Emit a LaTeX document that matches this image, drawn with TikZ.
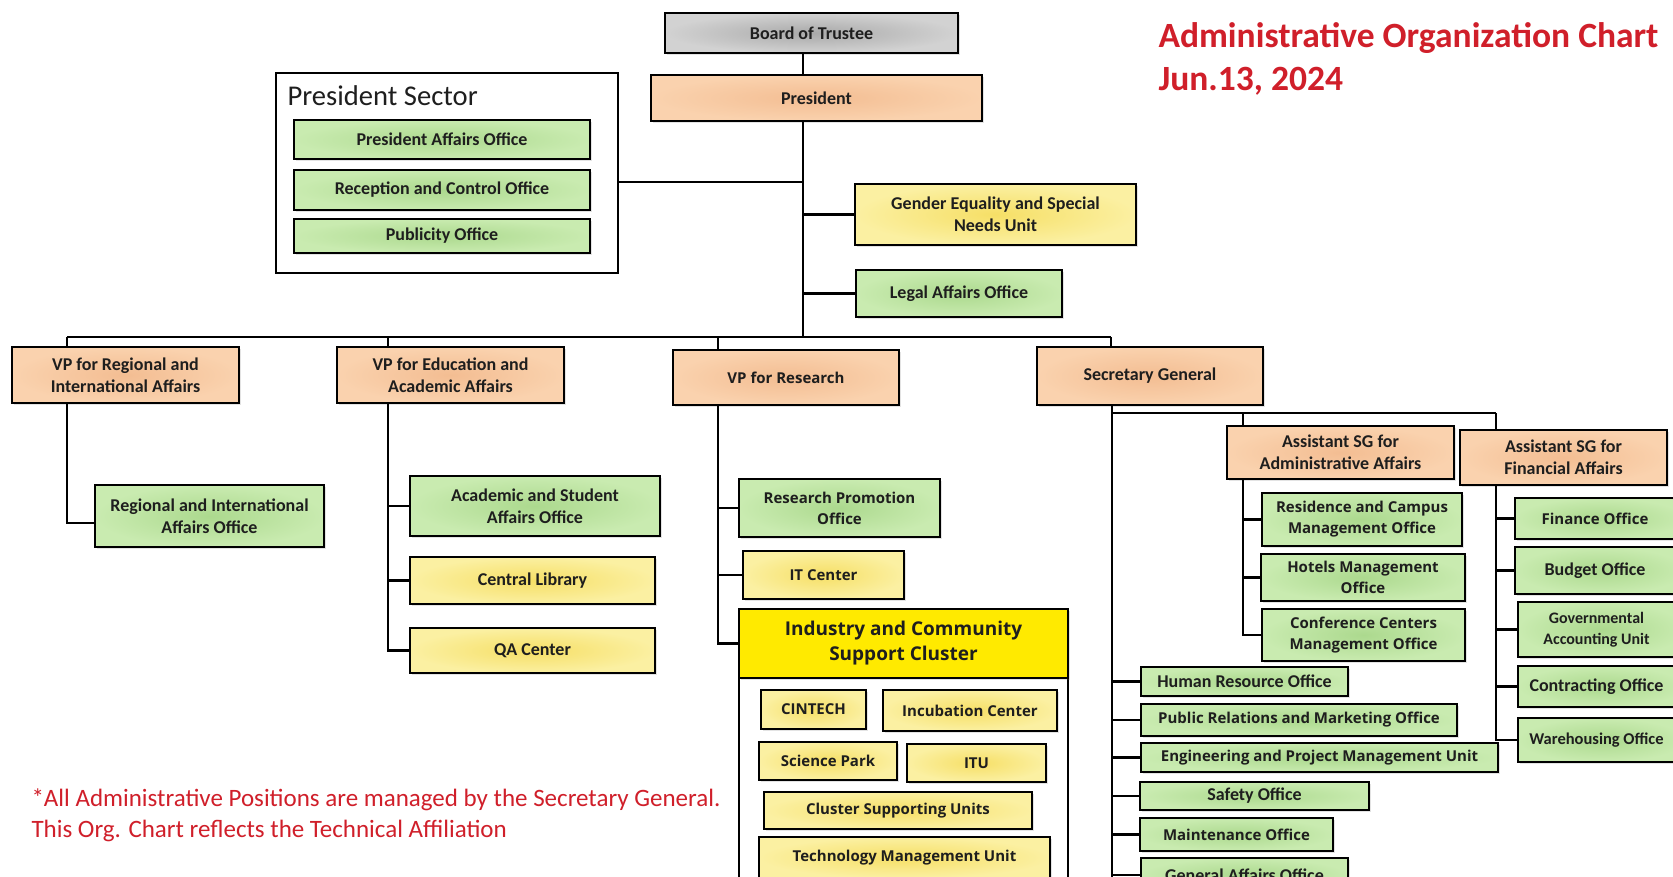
\documentclass[tikz,border=0pt]{standalone}
\usepackage{fontspec}
\setmainfont{Carlito}
\newfontfamily\tahfont{Open Sans}
\usetikzlibrary{shadows}
\definecolor{gout}{HTML}{C9EBB0}
\definecolor{gin}{HTML}{ACD98E}
\definecolor{pout}{HTML}{FAD2AE}
\definecolor{pin}{HTML}{F3BD92}
\definecolor{yout}{HTML}{FBF0A2}
\definecolor{yin}{HTML}{F6DF66}
\definecolor{grout}{HTML}{D2D2D2}
\definecolor{grin}{HTML}{A9A9A9}
\definecolor{clfill}{HTML}{FFEA00}
\definecolor{redt}{HTML}{D01F2A}
\definecolor{txt}{HTML}{1E1E1E}
\newcommand{\bxn}[6]{\node[#1, minimum width={(#4-#2)*1pt}, minimum height={(#5-#3)*1pt}] (#6) at ({(#2+#4)/2},{(#3+#5)/2})}
\tikzset{
  bx/.style={draw=black, line width=2.5pt, align=center, inner sep=1pt, text=txt,
    font=\bfseries\fontsize{18}{22}\selectfont,
    drop shadow={opacity=0.22, shadow xshift=2pt, shadow yshift=-2pt}},
  gbox/.style={bx, inner color=gin, outer color=gout},
  pbox/.style={bx, inner color=pin, outer color=pout},
  ybox/.style={bx, inner color=yin, outer color=yout},
  grbox/.style={bx, inner color=grin, outer color=grout},
  clbox/.style={bx, fill=clfill, font=\tahfont\bfseries\fontsize{19}{25}\selectfont},
  tah/.style={font=\tahfont\bfseries\fontsize{15}{21}\selectfont},
  contbox/.style={draw=black, line width=2.4pt, fill=white},
  lnk/.style={draw=black, line width=2.9pt},
  redtitle/.style={anchor=west, text=redt, font=\bfseries\fontsize{35.5}{42}\selectfont},
  rednote/.style={anchor=west, text=redt, font=\fontsize{25}{30}\selectfont},
}
\begin{document}
\begin{tikzpicture}[x=1pt, y=-1pt]
\useasboundingbox (0,0) rectangle (1673,876);
\clip (0,0) rectangle (1673,876);
\fill[white] (0,0) rectangle (1673,876);

% titles
\node[redtitle] (ttl) at (1155,38) {Administrative Organization Chart};
\node[redtitle] (dte) at (1155,81) {Jun.13, 2024};
\node[rednote] (fn1) at (28,800) {*All Administrative Positions are managed by the Secretary General.};
\node[rednote] (fn2) at (28,831) {This Org. Chart reflects the Technical Affiliation};

% junction coordinates
\coordinate (tP) at (803,337);
\coordinate (jPS) at (803,182);
\coordinate (bL) at (67,337);
\coordinate (bR) at (1111,337);
\coordinate (xE) at (388,337);
\coordinate (xS) at (718,337);
\coordinate (cR) at (67,523);
\coordinate (gEnd) at (1112,890);
\coordinate (brA) at (1243,413);
\coordinate (brF) at (1496,413);

% top
\bxn{grbox}{665}{13}{958}{53}{board} {Board of Trustee};
\bxn{pbox}{651}{75}{982}{121}{pres} {President};
\bxn{contbox}{276}{73}{618}{273}{psec} {};
\node[anchor=west, text=txt, font=\fontsize{28.6}{32}\selectfont] (pst) at (284,96) {President Sector};
\bxn{gbox}{294}{120}{590}{159}{paff} {President Affairs Office};
\bxn{gbox}{294}{170}{590}{210}{rco} {Reception and Control Office};
\bxn{gbox}{294}{219}{590}{253}{pub} {Publicity Office};
\bxn{ybox}{855}{184}{1136}{245}{gender} {Gender Equality and Special\\Needs Unit};
\bxn{gbox}{856}{270}{1062}{317}{legal} {Legal Affairs Office};

\draw[lnk] (board.south -| tP) -- (pres.north -| tP);
\draw[lnk] (pres.south -| tP) -- (tP);
\draw[lnk] (psec.east |- jPS) -- (jPS);
\draw[lnk] (gender.west -| tP) -- (gender.west);
\draw[lnk] (legal.west -| tP) -- (legal.west);
\draw[lnk] (bL) -- (bR);

% VPs
\bxn{pbox}{12}{347}{239}{403}{vpr} {VP for Regional and\\International Affairs};
\bxn{pbox}{337}{347}{564}{403}{vpe} {VP for Education and\\Academic Affairs};
\bxn{pbox, tah}{673}{350}{899}{405}{vps} {VP for Research};
\bxn{pbox}{1037}{347}{1263}{405}{sg} {Secretary General};
\draw[lnk] (bL) -- (vpr.north -| bL);
\draw[lnk] (xE) -- (vpe.north -| xE);
\draw[lnk] (xS) -- (vps.north -| xS);
\draw[lnk] (bR) -- (sg.north -| bR);

% VP regional
\bxn{gbox}{95}{485}{324}{547}{riao} {Regional and International\\Affairs Office};
\draw[lnk] (vpr.south -| cR) -- (cR) -- (riao.west |- cR);

% VP education
\bxn{gbox}{410}{476}{660}{536}{asao} {Academic and Student\\Affairs Office};
\bxn{ybox}{410}{557}{655}{604}{clib} {Central Library};
\bxn{ybox}{410}{628}{655}{673}{qa} {QA Center};
\draw[lnk] (vpe.south -| xE) -- (qa.west -| xE) -- (qa.west);
\draw[lnk] (asao.west -| xE) -- (asao.west);
\draw[lnk] (clib.west -| xE) -- (clib.west);

% VP research
\bxn{gbox, tah}{739}{479}{940}{537}{rpo} {Research Promotion\\Office};
\bxn{ybox, tah}{743}{551}{904}{599}{itc} {IT Center};
\bxn{contbox}{739}{678}{1068}{910}{clus} {};
\bxn{clbox}{739}{609}{1068}{678}{icsc} {Industry and Community\\Support Cluster};
\draw[lnk] (vps.south -| xS) -- (icsc.west -| xS) -- (icsc.west);
\draw[lnk] (rpo.west -| xS) -- (rpo.west);
\draw[lnk] (itc.west -| xS) -- (itc.west);
\bxn{ybox, tah}{761}{690}{866}{729}{cint} {CINTECH};
\bxn{ybox, tah}{883}{690}{1057}{731}{incub} {Incubation Center};
\bxn{ybox, tah}{759}{742}{897}{780}{scip} {Science Park};
\bxn{ybox, tah}{907}{744}{1046}{782}{itu} {ITU};
\bxn{ybox, tah}{764}{792}{1032}{829}{csu} {Cluster Supporting Units};
\bxn{ybox, tah}{759}{837}{1050}{878}{tmu} {Technology Management Unit};

% Secretary General
\draw[lnk] (sg.south -| gEnd) -- (gEnd);
\draw[lnk] (brA -| gEnd) -- (brF);
\bxn{pbox}{1227}{426}{1454}{479}{asga} {Assistant SG for\\Administrative Affairs};
\bxn{pbox}{1460}{430}{1667}{485}{asgf} {Assistant SG for\\Financial Affairs};
\draw[lnk] (brA) -- (asga.north -| brA);
\draw[lnk] (brF) -- (asgf.north -| brF);

\bxn{gbox, tah}{1262}{493}{1462}{546}{rcmo} {Residence and Campus\\Management Office};
\bxn{gbox, tah}{1261}{554}{1465}{601}{hmo} {Hotels Management\\Office};
\bxn{gbox, tah}{1262}{609}{1465}{661}{ccmo} {Conference Centers\\Management Office};
\draw[lnk] (asga.south -| brA) -- (ccmo.west -| brA) -- (ccmo.west);
\draw[lnk] (rcmo.west -| brA) -- (rcmo.west);
\draw[lnk] (hmo.west -| brA) -- (hmo.west);

\bxn{gbox, tah}{1515}{498}{1685}{539}{fo} {\hspace*{-10pt}Finance Office};
\bxn{gbox}{1515}{547}{1685}{594}{bo} {\hspace*{-10pt}Budget Office};
\bxn{gbox, font=\bfseries\fontsize{16}{21}\selectfont}{1518}{602}{1685}{657}{gau} {\hspace*{-10pt}Governmental\\\hspace*{-10pt}Accounting Unit};
\bxn{gbox}{1518}{666}{1685}{707}{co} {\hspace*{-10pt}Contracting Office};
\bxn{gbox, font=\bfseries\fontsize{16.5}{21}\selectfont}{1518}{718}{1685}{762}{wo} {\hspace*{-10pt}Warehousing Office};
\draw[lnk] (asgf.south -| brF) -- (wo.west -| brF) -- (wo.west);
\draw[lnk] (fo.west -| brF) -- (fo.west);
\draw[lnk] (bo.west -| brF) -- (bo.west);
\draw[lnk] (gau.west -| brF) -- (gau.west);
\draw[lnk] (co.west -| brF) -- (co.west);

\bxn{gbox}{1141}{667}{1348}{696}{hro} {Human Resource Office};
\bxn{gbox, tah}{1141}{704}{1457}{736}{prmo} {Public Relations and Marketing Office};
\bxn{gbox, tah}{1141}{743}{1498}{772}{epmu} {Engineering and Project Management Unit};
\bxn{gbox}{1140}{782}{1369}{810}{so} {Safety Office};
\bxn{gbox, tah}{1140}{818}{1333}{851}{mo} {Maintenance Office};
\bxn{gbox}{1141}{858}{1348}{892}{gao} {General Affairs Office};
\draw[lnk] (hro.west -| gEnd) -- (hro.west);
\draw[lnk] (prmo.west -| gEnd) -- (prmo.west);
\draw[lnk] (epmu.west -| gEnd) -- (epmu.west);
\draw[lnk] (so.west -| gEnd) -- (so.west);
\draw[lnk] (mo.west -| gEnd) -- (mo.west);
\draw[lnk] (gao.west -| gEnd) -- (gao.west);
\end{tikzpicture}
\end{document}
